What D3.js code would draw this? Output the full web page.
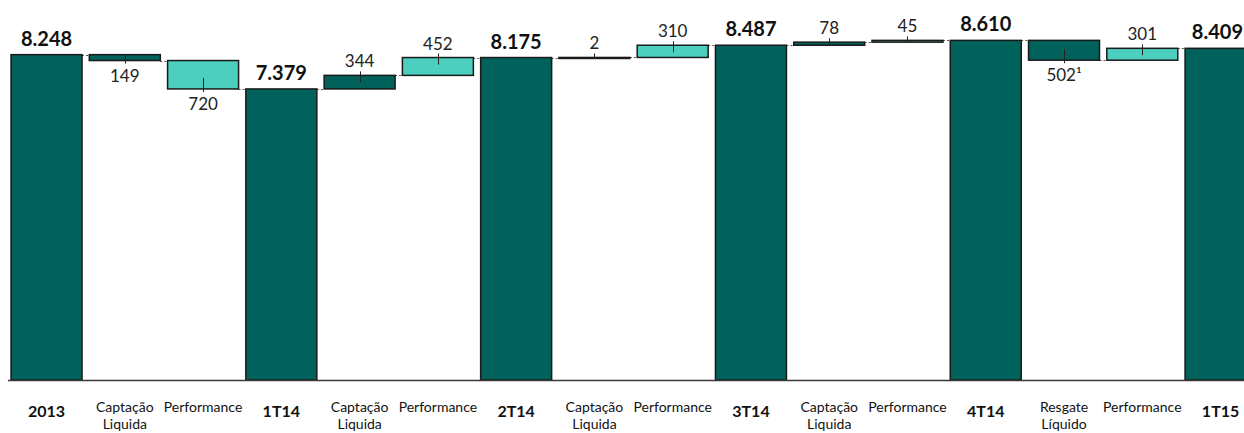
<!DOCTYPE html>
<html>
<head>
<meta charset="utf-8">
<script src="https://cdn.jsdelivr.net/npm/d3@7"></script>
<style>
  body { margin: 0; background: #fff; }
  svg { display: block; font-family: Lato, "Noto Sans", sans-serif; }
</style>
</head>
<body>
<svg width="1244" height="433"></svg>
<script>
// waterfall data
var categories = ["2013", "Captação Liquida", "Performance", "1T14",
  "Captação Liquida", "Performance", "2T14",
  "Captação Liquida", "Performance", "3T14",
  "Captação Liquida", "Performance", "4T14",
  "Resgate Líquido", "Performance", "1T15"];
var kinds = ["total", "flow", "perf", "total",
  "flow", "perf", "total",
  "flow", "perf", "total",
  "flow", "perf", "total",
  "flow", "perf", "total"];
var values = [8248, -149, -720, 7379,
  344, 452, 8175,
  2, 310, 8487,
  78, 45, 8610,
  -502, 301, 8409];
var notes = ["", "", "", "", "", "", "", "", "", "", "", "", "", "¹", "", ""];

var width = 1244, height = 433;
var dark = "#00625a", light = "#4ccfbf";

var loc = d3.formatLocale({decimal: ",", thousands: ".", grouping: [3], currency: ["R$", ""]});
var fmt = loc.format(",d");

// running levels
var level = 0;
var rows = values.map(function(v, i) {
  var r = {i: i, cat: categories[i], kind: kinds[i], v: v};
  if (kinds[i] == "total") {
    r.start = 0; r.end = v; level = v;
  } else {
    r.start = level; r.end = level + v; level = level + v;
  }
  r.level = level;
  return r;
});

var x = d3.scaleBand()
  .domain(d3.range(categories.length))
  .range([7.4, 1259.7])
  .paddingInner(0.093)
  .paddingOuter(0.0465);

var y = d3.scaleLinear()
  .domain([0, 9000])
  .range([380, 25]);

var svg = d3.select("svg");

// connectors between bars
svg.append("g").selectAll("line")
  .data(rows.slice(0, -1))
  .enter().append("line")
  .attr("x1", function(d) { return x(d.i) + x.bandwidth(); })
  .attr("x2", function(d) { return x(d.i + 1); })
  .attr("y1", function(d) { return Math.round(y(d.level)) + 0.5; })
  .attr("y2", function(d) { return Math.round(y(d.level)) + 0.5; })
  .attr("stroke", "#555")
  .attr("stroke-width", 1)
  .attr("stroke-dasharray", "2,2");

// bars
svg.append("g").selectAll("rect")
  .data(rows)
  .enter().append("rect")
  .attr("x", function(d) { return x(d.i); })
  .attr("width", x.bandwidth())
  .attr("y", function(d) { return y(Math.max(d.start, d.end)); })
  .attr("height", function(d) { return Math.max(Math.abs(y(d.start) - y(d.end)), 1); })
  .attr("fill", function(d) { return d.kind == "perf" ? light : dark; })
  .attr("stroke", "#1a1a1a")
  .attr("stroke-width", 1.5);

// axis
var axis = svg.append("g")
  .attr("transform", "translate(0,380)")
  .call(d3.axisBottom(x).tickSize(0).tickFormat(function(i) { return categories[i]; }));
axis.select(".domain").attr("stroke", "#3a3a3a").attr("stroke-width", 1.6);
axis.selectAll(".tick text").each(function(i) {
  var t = d3.select(this).text("").attr("dy", null).attr("fill", "#111");
  if (kinds[i] == "total") {
    t.attr("y", 37).attr("font-size", 16).attr("font-weight", "bold")
      .attr("font-family", "Lato, sans-serif")
      .append("tspan").attr("x", 0).text(categories[i]);
  } else {
    var parts = categories[i] == "Performance" ? [categories[i]] : categories[i].split(" ");
    t.attr("y", 32).attr("font-size", 14).attr("font-family", "Lato, sans-serif");
    parts.forEach(function(p, k) {
      t.append("tspan").attr("x", 0).attr("dy", k ? 17 : 0).text(p);
    });
  }
});

// total labels
var totals = rows.filter(function(d) { return d.kind == "total"; });
svg.append("g").selectAll("text")
  .data(totals)
  .enter().append("text")
  .attr("x", function(d) { return x(d.i) + x.bandwidth() / 2; })
  .attr("y", function(d) { return y(d.end) - 9; })
  .attr("text-anchor", "middle")
  .attr("font-size", 20)
  .attr("font-weight", "bold")
  .attr("fill", "#111")
  .text(function(d) { return fmt(d.v); })
  .each(function() {
    // keep the last label inside the frame
    var b = this.getBBox();
    if (b.x + b.width > width - 1) {
      d3.select(this).attr("x", +d3.select(this).attr("x") - (b.x + b.width - width + 1));
    }
  });

// delta labels and their small ticks
var deltas = rows.filter(function(d) { return d.kind != "total"; });
var dg = svg.append("g");
dg.selectAll("line")
  .data(deltas)
  .enter().append("line")
  .attr("x1", function(d) { return Math.round(x(d.i) + x.bandwidth() / 2) + 0.5; })
  .attr("x2", function(d) { return Math.round(x(d.i) + x.bandwidth() / 2) + 0.5; })
  .attr("y1", function(d) {
    var top = y(Math.max(d.start, d.end)), bot = y(Math.min(d.start, d.end));
    return d.v > 0 ? top - 4 : Math.max(bot - 11, top);
  })
  .attr("y2", function(d) {
    var top = y(Math.max(d.start, d.end)), bot = y(Math.min(d.start, d.end));
    return d.v > 0 ? Math.min(top + 7, bot) : bot + 3;
  })
  .attr("stroke", "#222")
  .attr("stroke-width", 1);

dg.selectAll("text")
  .data(deltas)
  .enter().append("text")
  .attr("x", function(d) { return x(d.i) + x.bandwidth() / 2; })
  .attr("y", function(d) {
    return d.v > 0 ? y(Math.max(d.start, d.end)) - 8 : y(Math.min(d.start, d.end)) + 21;
  })
  .attr("text-anchor", "middle")
  .attr("font-size", 17)
  .attr("fill", "#222")
  .text(function(d) { return fmt(Math.abs(d.v)) + notes[d.i]; });
</script>
</body>
</html>
